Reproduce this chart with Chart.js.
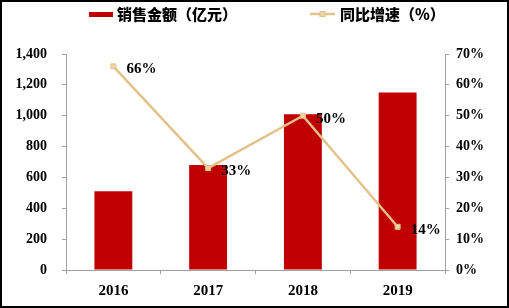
<!DOCTYPE html>
<html>
<head>
<meta charset="utf-8">
<script src="https://cdn.jsdelivr.net/npm/chart.js@4/dist/chart.umd.min.js"></script>
<style>
html,body{margin:0;padding:0;background:#fff;}
#wrap{width:509px;height:308px;position:relative;}
</style>
</head>
<body>
<div id="wrap"><canvas id="c" width="509" height="308"></canvas></div>
<script>
const categories = ['2016', '2017', '2018', '2019'];
const salesValues = [510, 680, 1010, 1150];
const growthValues = [66, 33, 50, 14];
const growthLabels = ['66%', '33%', '50%', '14%'];
const legendNames = ['销售金额（亿元）', '同比增速（%）'];

const barColor = '#C00000';
const lineColor = '#E2C28A';
const pointFill = '#EED4A2';
const axisColor = '#A0A0A0';
const serif = "'Liberation Serif','Times New Roman',serif";
const cjk = "'Noto Sans CJK SC','Noto Sans',sans-serif";

const decorPlugin = {
  id: 'decor',
  beforeDraw(chart) {
    const ctx = chart.ctx;
    ctx.save();
    ctx.fillStyle = '#fff';
    ctx.fillRect(0, 0, chart.width, chart.height);
    ctx.restore();
  },
  afterDatasetsDraw(chart) {
    const ctx = chart.ctx;
    const meta = chart.getDatasetMeta(1);
    ctx.save();
    ctx.font = 'bold 15px ' + serif;
    ctx.fillStyle = '#000';
    ctx.textAlign = 'left';
    ctx.textBaseline = 'middle';
    meta.data.forEach((pt, i) => {
      ctx.fillText(growthLabels[i], pt.x + 13, pt.y + 3);
    });
    ctx.restore();
  },
  afterDraw(chart) {
    const ctx = chart.ctx;
    ctx.save();
    // legend
    ctx.fillStyle = barColor;
    ctx.fillRect(89, 12, 24, 5);
    ctx.font = '900 15px ' + cjk;
    ctx.fillStyle = '#000';
    ctx.textAlign = 'left';
    ctx.textBaseline = 'middle';
    ctx.fillText(legendNames[0], 117, 14);
    ctx.strokeStyle = lineColor;
    ctx.lineWidth = 2.5;
    ctx.beginPath();
    ctx.moveTo(310, 14);
    ctx.lineTo(335, 14);
    ctx.stroke();
    ctx.fillStyle = pointFill;
    ctx.fillRect(320, 11.5, 5, 5);
    ctx.strokeStyle = lineColor;
    ctx.lineWidth = 1;
    ctx.strokeRect(320, 11.5, 5, 5);
    ctx.fillStyle = '#000';
    ctx.fillText(legendNames[1], 340, 14);
    // frame
    ctx.strokeStyle = '#000';
    ctx.lineWidth = 2;
    ctx.strokeRect(1, 1, chart.width - 2, chart.height - 2);
    ctx.restore();
  }
};

new Chart(document.getElementById('c'), {
  type: 'bar',
  data: {
    labels: categories,
    datasets: [
      {
        type: 'bar',
        label: legendNames[0],
        data: salesValues,
        backgroundColor: barColor,
        borderWidth: 0,
        barPercentage: 0.4,
        categoryPercentage: 1.0,
        yAxisID: 'y',
        order: 2
      },
      {
        type: 'line',
        label: legendNames[1],
        data: growthValues,
        borderColor: lineColor,
        borderWidth: 2.5,
        pointStyle: 'rect',
        pointRadius: 3.5,
        pointBackgroundColor: pointFill,
        pointBorderColor: lineColor,
        pointBorderWidth: 1,
        tension: 0,
        yAxisID: 'y1',
        order: 1
      }
    ]
  },
  options: {
    responsive: false,
    animation: false,
    devicePixelRatio: 1,
    layout: { padding: { top: 54, bottom: 8, left: 0, right: 0 } },
    plugins: { legend: { display: false }, tooltip: { enabled: false } },
    scales: {
      x: {
        grid: { display: true, drawOnChartArea: false, offset: true, tickLength: 4, color: axisColor },
        border: { display: true, color: axisColor, width: 1 },
        ticks: { font: { family: serif, size: 15, weight: 'bold' }, color: '#000', padding: 8 },
        afterFit(s) { s.height = 30; }
      },
      y: {
        position: 'left',
        min: 0, max: 1400,
        grid: { display: true, drawOnChartArea: false, tickLength: 4, color: axisColor },
        border: { display: true, color: axisColor, width: 1 },
        ticks: {
          stepSize: 200,
          font: { family: serif, size: 14, weight: 'bold' }, color: '#000', padding: 15,
          callback: v => v.toLocaleString('en-US')
        },
        afterFit(s) { s.width = 66; }
      },
      y1: {
        position: 'right',
        min: 0, max: 70,
        grid: { display: true, drawOnChartArea: false, tickLength: 4, color: axisColor },
        border: { display: true, color: axisColor, width: 1 },
        ticks: {
          stepSize: 10,
          font: { family: serif, size: 14, weight: 'bold' }, color: '#000', padding: 7,
          callback: v => v + '%'
        },
        afterFit(s) { s.width = 64; }
      }
    }
  },
  plugins: [decorPlugin]
});
</script>
</body>
</html>
